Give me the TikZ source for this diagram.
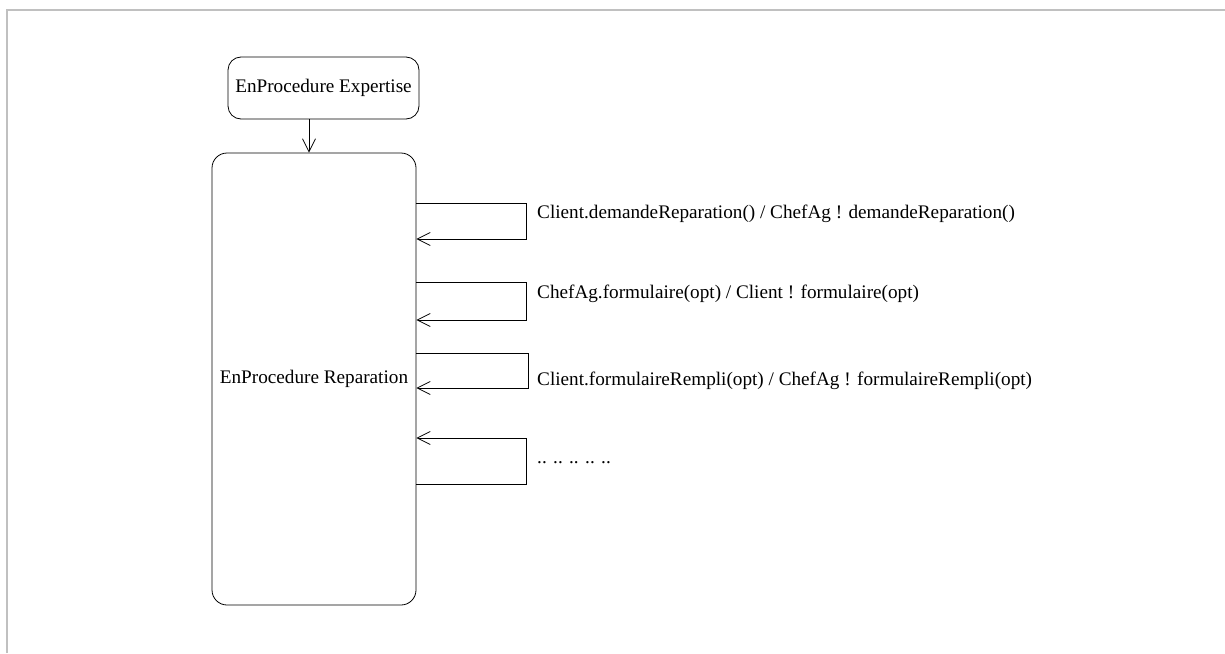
\documentclass[tikz,border=0pt]{standalone}
\usepackage{fontspec}
\setmainfont{Liberation Serif}
\usetikzlibrary{arrows.meta}
\tikzset{
  state/.style={draw, rounded corners=13pt, line width=0.8pt, inner sep=0pt},
  trans/.style={draw, line width=0.8pt, -{Straight Barb[length=13pt,width=13pt]}},
  lbl/.style={anchor=west, inner sep=0pt, font=\fontsize{19.2}{22}\selectfont}
}
\definecolor{framegray}{RGB}{192,192,192}
\begin{document}
\begin{tikzpicture}[x=1pt, y=-1pt]
  \useasboundingbox (0,0) rectangle (1225,653);
  \draw[framegray, line width=2pt] (7,653) -- (7,10) -- (1225,10);
  \node[state, minimum width=191pt, minimum height=62pt, font=\fontsize{19.2}{22}\selectfont]
    (expertise) at (323.5,88) {EnProcedure Expertise};
  \node[state, rounded corners=15pt, minimum width=204pt, minimum height=452pt, font=\fontsize{19.2}{22}\selectfont]
    (reparation) at (314,379) {EnProcedure Reparation};
  \draw[trans] ([xshift=-14.5pt]expertise.south) -- ([xshift=-14.5pt]expertise.south |- reparation.north);
  % self transitions
  \coordinate (c1) at (526,203);
  \coordinate (c2) at (526,282);
  \coordinate (c3) at (528,353);
  \coordinate (c4) at (526,484);
  \draw[trans] (reparation.east |- c1) -- (c1) |- (reparation.east |- 0,239);
  \draw[trans] (reparation.east |- c2) -- (c2) |- (reparation.east |- 0,320);
  \draw[trans] (reparation.east |- c3) -- (c3) |- (reparation.east |- 0,388);
  \draw[trans] (reparation.east |- c4) -- (c4) |- (reparation.east |- 0,438);
  \node[lbl] (t1) at (537,214) {Client.demandeReparation() / ChefAg ! demandeReparation()};
  \node[lbl] (t2) at (537,294) {ChefAg.formulaire(opt) / Client ! formulaire(opt)};
  \node[lbl] (t3) at (537,381) {Client.formulaireRempli(opt) / ChefAg ! formulaireRempli(opt)};
  \node[lbl] (t4) at (537,463) {.. .. .. .. ..};
\end{tikzpicture}
\end{document}
